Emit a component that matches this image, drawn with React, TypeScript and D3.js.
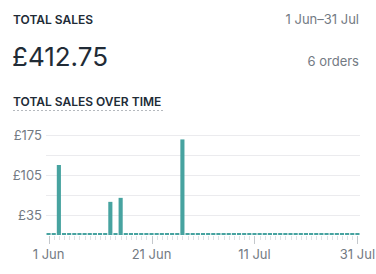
import React from "react";
import * as d3 from "d3";

const startDate = new Date(2023, 5, 1);
const dayCount = 61;
const saleDays = [2, 12, 14, 26];
const saleValues = [122.5, 58, 65, 167.25];
const yGridValues = [35, 70, 105, 140, 175];
const yLabelValues = [35, 105, 175];
const xLabelDays = [0, 20, 40, 60];
const xLabels = ["1 Jun", "21 Jun", "11 Jul", "31 Jul"];

const days = d3.range(dayCount).map((i) => d3.timeDay.offset(startDate, i));
const values = days.map((_, i) => {
  const k = saleDays.indexOf(i);
  return k >= 0 ? saleValues[k] : 0;
});

const W = 376;
const H = 274;
const font = "Inter, 'Noto Sans', sans-serif";

export default function App() {
  const x = d3.scaleBand<number>().domain(d3.range(dayCount)).range([46, 360]).paddingInner(0.2).paddingOuter(0.1);
  const y = d3.scaleLinear().domain([0, 175]).range([235, 135]);
  const teal = "#47a3a0";
  return (
    <svg width={W} height={H} style={{ position: "absolute", left: 0, top: 0 }}>
      <text x={13} y={24} fontFamily={font} fontSize={12} fontWeight={600} fill="#212b36">TOTAL SALES</text>
      <text x={359} y={24} fontFamily={font} fontSize={13} textAnchor="end" fill="#737a83">1 Jun–31 Jul</text>
      <text x={12} y={66} fontFamily={font} fontSize={26} fill="#212b36">£412.75</text>
      <text x={359} y={66} fontFamily={font} fontSize={13} textAnchor="end" fill="#737a83">6 orders</text>
      <text x={13} y={106} fontFamily={font} fontSize={12} fontWeight={600} fill="#212b36">TOTAL SALES OVER TIME</text>
      <line x1={13} x2={163} y1={110.5} y2={110.5} stroke="#b5b9be" strokeDasharray="2 2" />
      {yGridValues.map((v) => (
        <line key={v} x1={46} x2={360} y1={y(v) + 0.5} y2={y(v) + 0.5} stroke="#ebebee" />
      ))}
      {yLabelValues.map((v) => (
        <text key={v} x={42} y={y(v) + 4.5} textAnchor="end" fontFamily={font} fontSize={13} fill="#737a83">£{v}</text>
      ))}
      {days.map((_, i) => {
        const major = xLabelDays.includes(i);
        const cx = (x(i) as number) + x.bandwidth() / 2;
        return (
          <line key={"t" + i} x1={Math.round(cx) + 0.5} x2={Math.round(cx) + 0.5} y1={236} y2={major ? 244 : 240} stroke={major ? "#c4c8cc" : "#dfe1e4"} />
        );
      })}
      {values.map((v, i) => {
        const top = Math.min(y(v), 233);
        return <rect key={"b" + i} x={x(i)} y={top} width={x.bandwidth()} height={235 - top} fill={teal} />;
      })}
      {xLabelDays.map((d, k) => (
        <text key={d} x={(x(d) as number) + x.bandwidth() / 2} y={259} textAnchor="middle" fontFamily={font} fontSize={13} fill="#737a83">{xLabels[k]}</text>
      ))}
    </svg>
  );
}
